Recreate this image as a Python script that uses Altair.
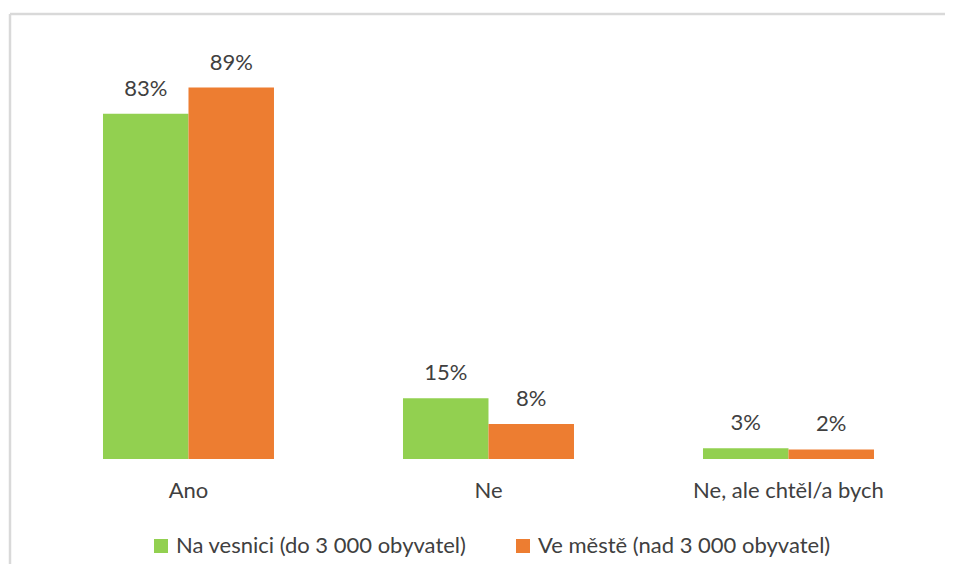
import altair as alt
import pandas as pd

categories = ["Ano", "Ne", "Ne, ale chtěl/a bych"]
series = ["Na vesnici (do 3 000 obyvatel)", "Ve městě (nad 3 000 obyvatel)"]
vesnice = [83.0, 14.6, 2.6]
mesto = [89.3, 8.4, 2.3]
colors = ["#92D050", "#ED7D31"]

rows = []
for i, c in enumerate(categories):
    rows.append({"kategorie": c, "skupina": series[0], "hodnota": vesnice[i]})
    rows.append({"kategorie": c, "skupina": series[1], "hodnota": mesto[i]})
df = pd.DataFrame(rows)

FONT = "Lato"
TXT = "#404040"
FS = 22
W, H = 935, 445
YMAX = 107.0

x_enc = alt.X("kategorie:N", sort=categories, title=None,
              scale=alt.Scale(paddingInner=0, paddingOuter=0.05833, align=0.814, round=False),
              axis=alt.Axis(domain=False, ticks=False, labelFontSize=FS, labelFont=FONT,
                            labelColor=TXT, labelPadding=21, labelAngle=0, labelLimit=600))
xo_enc = alt.XOffset("skupina:N", sort=series,
                     scale=alt.Scale(paddingInner=0, paddingOuter=0.7544, round=False))
y_enc = alt.Y("hodnota:Q", scale=alt.Scale(domain=[0, YMAX], nice=False, zero=True), axis=None)

base = alt.Chart(df)

bars = base.mark_bar(stroke=None).encode(
    x=x_enc, xOffset=xo_enc, y=y_enc,
    color=alt.Color("skupina:N", sort=series,
                    scale=alt.Scale(domain=series, range=colors),
                    legend=alt.Legend(title=None, orient="none", legendX=140, legendY=521,
                                      direction="horizontal", symbolType="square",
                                      symbolSize=196, symbolStrokeWidth=0,
                                      labelFontSize=FS, labelFont=FONT, labelColor=TXT,
                                      labelOffset=4, columnPadding=45, labelLimit=600)),
)

labels = base.transform_calculate(
    lab="format(datum.hodnota, '.0f') + '%'"
).mark_text(baseline="alphabetic", dy=-18, fontSize=FS, font=FONT, color=TXT).encode(
    x=x_enc, xOffset=xo_enc, y=y_enc, text="lab:N"
)

frame_data = alt.Data(values=[{"a": 1}])
top_rule = alt.Chart(frame_data).mark_rule(color="#d9d9d9", strokeWidth=2.5).encode(
    x=alt.value(0), x2=alt.value(W), y=alt.value(0)
)
left_rule = alt.Chart(frame_data).mark_rule(color="#d9d9d9", strokeWidth=2.5).encode(
    x=alt.value(0), y=alt.value(0), y2=alt.value(700)
)

chart = alt.layer(bars, labels, top_rule, left_rule).properties(
    width=W, height=H,
    autosize=alt.AutoSizeParams(type="none"),
    padding={"left": 2, "top": 6, "right": 0, "bottom": 105},
    background="white",
).configure_view(stroke=None)

chart.save("out.html", embed_options={"renderer": "svg", "actions": False})
